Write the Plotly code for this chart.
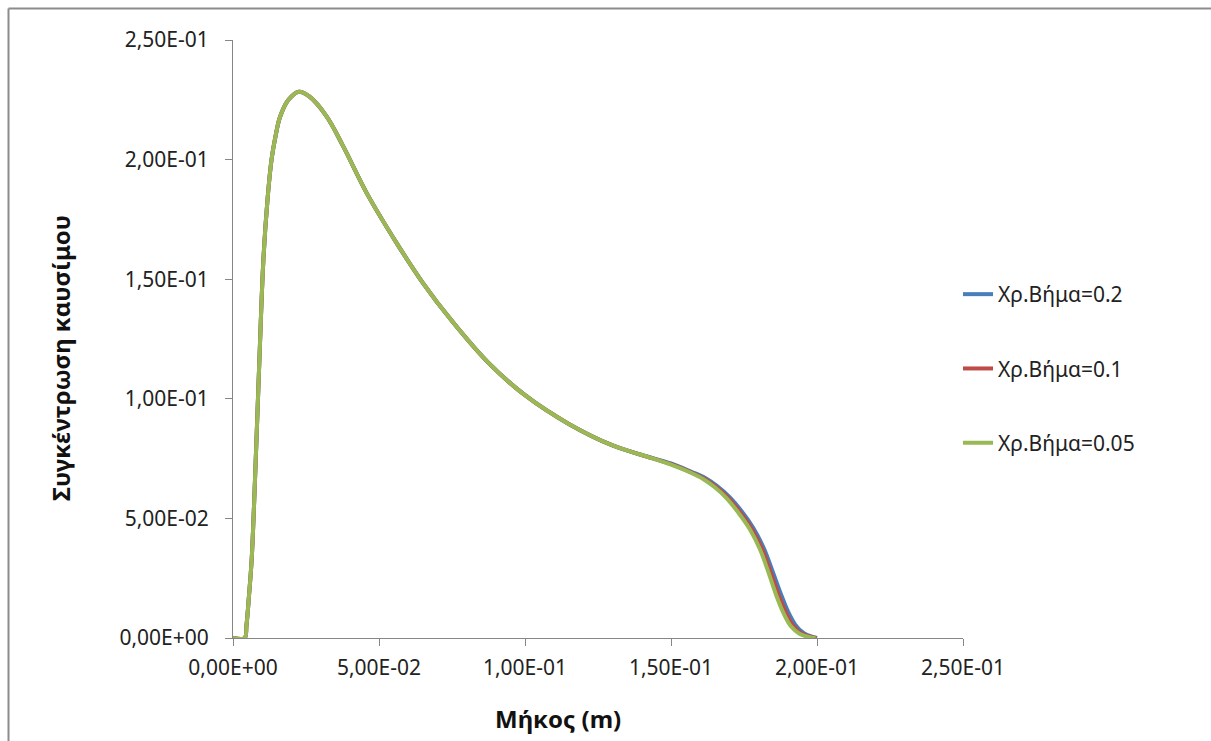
import plotly.graph_objects as go

# ---- data ----
x_005 = [0, 0.004, 0.0046, 0.0055, 0.0064, 0.0075, 0.009, 0.0104, 0.0118, 0.0132, 0.0146, 0.0161,
         0.019, 0.0226, 0.026, 0.0321, 0.0378, 0.0458, 0.0561, 0.065, 0.075, 0.0875, 0.1, 0.115,
         0.13, 0.14, 0.15, 0.157, 0.161, 0.165, 0.169, 0.173, 0.177, 0.1805, 0.1835, 0.186, 0.1885,
         0.191, 0.194, 0.1975, 0.1995]
y_005 = [0, 0, 0.005, 0.018, 0.033, 0.065, 0.115, 0.158, 0.183, 0.2, 0.21, 0.2178,
         0.225, 0.2284, 0.2265, 0.218, 0.2054, 0.186, 0.165, 0.1485, 0.1325, 0.115, 0.1015, 0.0895,
         0.0805, 0.0765, 0.0725, 0.069, 0.0665, 0.063, 0.0585, 0.0525, 0.0455, 0.037, 0.027, 0.018, 0.0105,
         0.005, 0.0018, 0.0003, 0]

x_01 = [0, 0.004, 0.0046, 0.0055, 0.0064, 0.0075, 0.009, 0.0104, 0.0118, 0.0132, 0.0146, 0.0161,
        0.019, 0.0226, 0.026, 0.0321, 0.0378, 0.0458, 0.0561, 0.065, 0.075, 0.0875, 0.1, 0.115,
        0.13, 0.14, 0.15, 0.157, 0.1613, 0.1654, 0.1695, 0.1736, 0.1776, 0.1812, 0.1842, 0.1868, 0.1893,
        0.1918, 0.1947, 0.198, 0.1998]
y_01 = [0, 0, 0.005, 0.018, 0.033, 0.065, 0.115, 0.158, 0.183, 0.2, 0.21, 0.2178,
        0.225, 0.2284, 0.2265, 0.218, 0.2054, 0.186, 0.165, 0.1485, 0.1325, 0.115, 0.1015, 0.0895,
        0.0805, 0.0765, 0.0727, 0.0692, 0.0667, 0.0632, 0.0587, 0.0527, 0.0457, 0.0372, 0.0272, 0.0182, 0.0107,
        0.0052, 0.0019, 0.0004, 0]

x_02 = [0, 0.004, 0.0046, 0.0055, 0.0064, 0.0075, 0.009, 0.0104, 0.0118, 0.0132, 0.0146, 0.0161,
        0.019, 0.0226, 0.026, 0.0321, 0.0378, 0.0458, 0.0561, 0.065, 0.075, 0.0875, 0.1, 0.115,
        0.13, 0.14, 0.15, 0.157, 0.1616, 0.1658, 0.17, 0.1742, 0.1782, 0.1818, 0.1849, 0.1876, 0.1901,
        0.1926, 0.1955, 0.1985, 0.2]
y_02 = [0, 0, 0.005, 0.018, 0.033, 0.065, 0.115, 0.158, 0.183, 0.2, 0.21, 0.2178,
        0.225, 0.2284, 0.2265, 0.218, 0.2054, 0.186, 0.165, 0.1485, 0.1325, 0.115, 0.1015, 0.0895,
        0.0805, 0.0765, 0.073, 0.0695, 0.067, 0.0635, 0.059, 0.053, 0.046, 0.0375, 0.0275, 0.0185, 0.011,
        0.0055, 0.002, 0.0005, 0]

series_names = ["Χρ.Βήμα=0.2", "Χρ.Βήμα=0.1", "Χρ.Βήμα=0.05"]
tick_vals = [0, 0.05, 0.1, 0.15, 0.2, 0.25]
tick_text = ["0,00E+00", "5,00E-02", "1,00E-01", "1,50E-01", "2,00E-01", "2,50E-01"]
x_title = "Μήκος (m)"
y_title = "Συγκέντρωση καυσίμου"

colors = ["#4A7EBB", "#BE4B48", "#98B954"]
FONT = "Noto Sans"

fig = go.Figure()
for i, (xs, ys) in enumerate([(x_02, y_02), (x_01, y_01), (x_005, y_005)]):
    fig.add_trace(go.Scatter(
        x=xs, y=ys, mode="lines", name=series_names[i],
        line=dict(color=colors[i], width=4, shape="spline", smoothing=1.0),
        legendgroup=f"g{i}",
    ))

W, H = 1211, 741
L, R, T, B = 233, 248, 40, 103
pw, ph = W - L - R, H - T - B

def px(xp):
    return (xp - L) / pw

def py(yp):
    return (H - B - yp) / ph

axis_common = dict(
    range=[0, 0.25], tickvals=tick_vals, ticktext=tick_text,
    showgrid=False, zeroline=False, showline=True, linecolor="#868686", linewidth=1,
    ticks="outside", tickcolor="#868686", ticklen=7, tickwidth=1,
    tickfont=dict(family=FONT, size=21, color="#222222"),
)

fig.update_layout(
    width=W, height=H,
    margin=dict(l=L, r=R, t=T, b=B, pad=0),
    paper_bgcolor="white", plot_bgcolor="white",
    xaxis=dict(**axis_common, ticklabelstandoff=4),
    yaxis=dict(**axis_common, ticklabelstandoff=12),
    showlegend=True,
    legend=dict(
        x=px(958), y=py(274), xanchor="left", yanchor="top",
        font=dict(family=FONT, size=21, color="#222222"),
        tracegroupgap=44, bgcolor="rgba(0,0,0,0)", borderwidth=0,
    ),
    annotations=[
        dict(text=f"<b>{x_title}</b>", xref="paper", yref="paper", x=px(558), y=py(718),
             xanchor="center", yanchor="middle", showarrow=False,
             font=dict(family=FONT, size=24, color="#111111")),
        dict(text=f"<b>{y_title}</b>", xref="paper", yref="paper", x=px(60), y=py(358),
             xanchor="center", yanchor="middle", showarrow=False, textangle=-90,
             font=dict(family=FONT, size=24, color="#111111")),
    ],
    shapes=[
        dict(type="line", xref="paper", yref="paper", x0=px(8.5), x1=px(8.5), y0=py(8.5), y1=py(760),
             line=dict(color="#8C8C8C", width=2)),
        dict(type="line", xref="paper", yref="paper", x0=px(8.5), x1=px(1230), y0=py(8.5), y1=py(8.5),
             line=dict(color="#8C8C8C", width=2)),
    ],
)

fig.write_html("out.html")
